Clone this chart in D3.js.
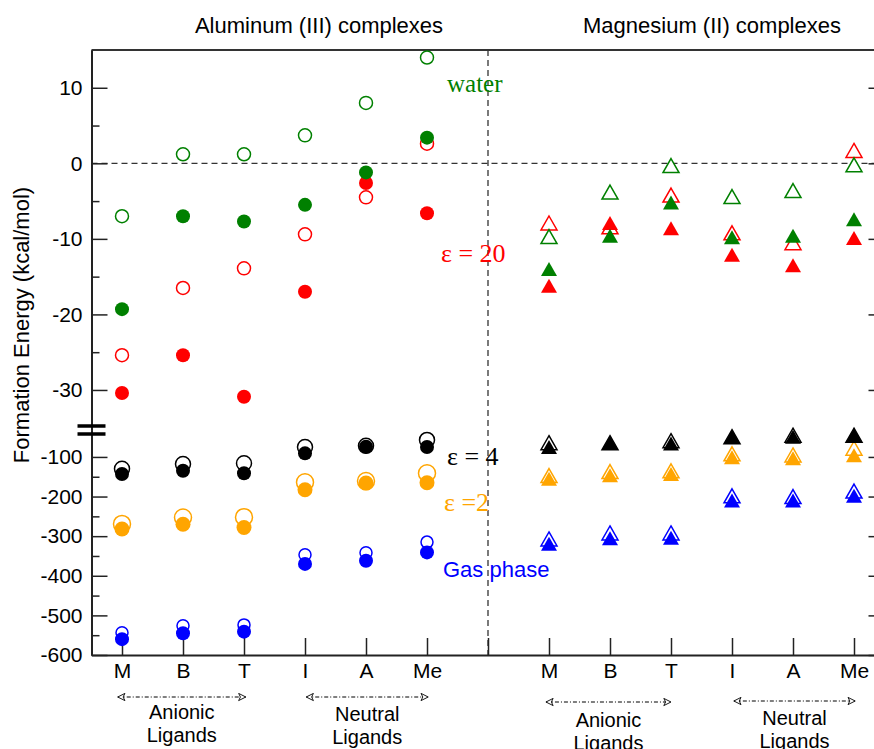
<!DOCTYPE html>
<meta charset="utf-8">
<script src="https://d3js.org/d3.v7.min.js"></script>
<style>
  body { margin: 0; background: #fff; }
  svg text { font-family: "Liberation Sans", Arial, sans-serif; }
</style>
<div id="my_dataviz"></div>
<script>

// ligand labels on the x axis (one block per metal)
var ligands = ["M", "B", "T", "I", "A", "Me"];

// Aluminum (III) complexes (circles): open / filled
var alWaterOpen   = [-7.0, 1.2, 1.2, 3.7, 8.0, 14.0];
var alWaterFilled = [-19.3, -7.0, -7.7, -5.5, -1.2, 3.4];
var alEps20Open   = [-25.4, -16.5, -13.9, -9.4, -4.5, 2.6];
var alEps20Filled = [-30.4, -25.4, -30.9, -17.0, -2.6, -6.6];
var alEps4Open    = [-130, -118, -116, -75, -72, -57];
var alEps4Filled  = [-143, -135, -141, -91, -74, -75];
var alEps2Open    = [-269, -253, -252, -164, -161, -141];
var alEps2Filled  = [-282, -270, -278, -183, -166, -165];
var alGasOpen     = [-544, -526, -524, -347, -342, -315];
var alGasFilled   = [-560, -545, -541, -370, -362, -341];

// Magnesium (II) complexes (triangles): open / filled
var mgWaterOpen   = [-9.7, -3.8, -0.3, -4.4, -3.6, -0.2];
var mgWaterFilled = [-14.0, -9.6, -5.2, -9.8, -9.6, -7.4];
var mgEps20Open   = [-7.9, -8.4, -4.2, -9.2, -10.5, 1.7];
var mgEps20Filled = [-16.2, -7.9, -8.6, -12.1, -13.5, -9.9];
var mgEps4Open    = [-64, -64, -59, -49, -45, -45];
var mgEps4Filled  = [-75, -64, -66, -49, -49, -45];
var mgEps2Open    = [-147, -137, -135, -92, -95, -78];
var mgEps2Filled  = [-155, -146, -143, -101, -103, -96];
var mgGasOpen     = [-307, -292, -292, -198, -200, -186];
var mgGasFilled   = [-319, -305, -304, -210, -210, -198];

// tick values of the broken y axis
var upperTicks = [10, 0, -10, -20, -30];
var upperMinor = [5, -5, -15, -25];
var lowerTicks = [-100, -200, -300, -400, -500, -600];
var lowerMinor = [-150, -250, -350, -450, -550];

var width = 874, height = 749;

var svg = d3.select("#my_dataviz")
  .append("svg")
    .attr("width", width)
    .attr("height", height);

// x: category slots 1..6 (Al), 7 = divider, 8..13 (Mg)
var x = d3.scaleLinear().domain([0.5, 13.5]).range([91.5, 884.5]);

// y: two pieces, upper (small energies) and lower (big energies)
var yBreak = 430;
var yUp  = d3.scaleLinear().domain([-35.3, 15]).range([yBreak, 50]);
var yLow = d3.scaleLinear().domain([-600, -32]).range([655, yBreak]);
function y(v) { return v > -34 ? yUp(v) : yLow(v); }

var green = "#008000", red = "#ff0000", orange = "#ffa500", blue = "#0000ff";

// series in drawing order (later ones on top)
var alSeries = [
  {open: alGasOpen,   filled: alGasFilled,   color: blue,    ro: 6,   rf: 7},
  {open: alEps2Open,  filled: alEps2Filled,  color: orange,  ro: 8.5, rf: 7.5},
  {open: alEps4Open,  filled: alEps4Filled,  color: "#000",  ro: 7.5, rf: 7},
  {open: alEps20Open, filled: alEps20Filled, color: red,     ro: 6.5, rf: 7},
  {open: alWaterOpen, filled: alWaterFilled, color: green,   ro: 6.5, rf: 7}
];
var mgSeries = [
  {open: mgGasOpen,   filled: mgGasFilled,   color: blue},
  {open: mgEps2Open,  filled: mgEps2Filled,  color: orange},
  {open: mgEps4Open,  filled: mgEps4Filled,  color: "#000"},
  {open: mgEps20Open, filled: mgEps20Filled, color: red},
  {open: mgWaterOpen, filled: mgWaterFilled, color: green}
];

// dashed reference lines
svg.append("line")
  .attr("x1", x(0.5)).attr("x2", x(13.5))
  .attr("y1", yUp(0)).attr("y2", yUp(0))
  .style("stroke", "#333").style("stroke-width", 1.3).style("stroke-dasharray", "6,4");
svg.append("line")
  .attr("x1", x(7)).attr("x2", x(7))
  .attr("y1", yUp(15)).attr("y2", yLow(-600))
  .style("stroke", "#333").style("stroke-width", 1.3).style("stroke-dasharray", "6,4");

// top frame line
svg.append("line")
  .attr("x1", x(0.5)).attr("x2", x(13.5))
  .attr("y1", yUp(15)).attr("y2", yUp(15))
  .style("stroke", "#333").style("stroke-width", 2);

// left axis (labels + major), minor ticks
function styleAxis(g) {
  g.selectAll("path").style("stroke", "#222").style("stroke-width", 2);
  g.selectAll("line").style("stroke", "#222").style("stroke-width", 1.5);
  g.selectAll("text").style("font-size", "21px").style("fill", "#000")
    .style("font-family", "'Liberation Sans', Arial, sans-serif");
}
var plain = function(d) { return String(d); };
var axL = x(0.5);
svg.append("g").attr("transform", "translate(" + axL + ",0)")
  .call(d3.axisLeft(yUp).tickValues(upperTicks).tickSize(-16).tickSizeOuter(0).tickPadding(9).tickFormat(plain))
  .call(styleAxis);
svg.append("g").attr("transform", "translate(" + axL + ",0)")
  .call(d3.axisLeft(yUp).tickValues(upperMinor).tickSize(-8).tickSizeOuter(0).tickFormat(""))
  .call(styleAxis);
svg.append("g").attr("transform", "translate(" + axL + ",0)")
  .call(d3.axisLeft(yLow).tickValues(lowerTicks).tickSize(-16).tickSizeOuter(0).tickPadding(9).tickFormat(plain))
  .call(styleAxis);
svg.append("g").attr("transform", "translate(" + axL + ",0)")
  .call(d3.axisLeft(yLow).tickValues(lowerMinor).tickSize(-8).tickSizeOuter(0).tickFormat(""))
  .call(styleAxis);

// right axis (mostly off-page, only tick ends show)
var axR = x(13.5);
svg.append("g").attr("transform", "translate(" + axR + ",0)")
  .call(d3.axisRight(yUp).tickValues(upperTicks).tickSize(-16).tickSizeOuter(0).tickFormat(""))
  .call(styleAxis);
svg.append("g").attr("transform", "translate(" + axR + ",0)")
  .call(d3.axisRight(yLow).tickValues(lowerTicks).tickSize(-16).tickSizeOuter(0).tickFormat(""))
  .call(styleAxis);

// axis break marks
[yBreak - 4, yBreak + 4].forEach(function(yy) {
  svg.append("line")
    .attr("x1", axL - 14).attr("x2", axL + 14)
    .attr("y1", yy).attr("y2", yy)
    .style("stroke", "#000").style("stroke-width", 3.5);
});

// bottom axis with ligand names
var slots = d3.range(1, 14);
svg.append("g").attr("transform", "translate(0," + yLow(-600) + ")")
  .call(d3.axisBottom(x).tickValues(slots).tickSize(-17).tickSizeOuter(0).tickPadding(8)
    .tickFormat(function(d) { return d < 7 ? ligands[d - 1] : (d > 7 ? ligands[d - 8] : ""); }))
  .call(styleAxis);

// Al: circles
alSeries.forEach(function(s) {
  svg.append("g").selectAll("circle")
    .data(s.open).enter().append("circle")
      .attr("cx", function(d, i) { return x(i + 1); })
      .attr("cy", function(d) { return y(d); })
      .attr("r", s.ro)
      .style("fill", "white").style("stroke", s.color).style("stroke-width", 1.5);
});
alSeries.forEach(function(s) {
  svg.append("g").selectAll("circle")
    .data(s.filled).enter().append("circle")
      .attr("cx", function(d, i) { return x(i + 1); })
      .attr("cy", function(d) { return y(d); })
      .attr("r", s.rf)
      .style("fill", s.color);
});

// Mg: triangles, centred on their box
function tri(cx, cy) {
  var w = 8, h = 7;
  return "M" + cx + "," + (cy - h) + "L" + (cx + w) + "," + (cy + h) + "L" + (cx - w) + "," + (cy + h) + "Z";
}
mgSeries.forEach(function(s) {
  svg.append("g").selectAll("path")
    .data(s.open).enter().append("path")
      .attr("d", function(d, i) { return tri(x(i + 8), y(d)); })
      .style("fill", "white").style("stroke", s.color).style("stroke-width", 1.5);
});
mgSeries.forEach(function(s) {
  svg.append("g").selectAll("path")
    .data(s.filled).enter().append("path")
      .attr("d", function(d, i) { return tri(x(i + 8), y(d)); })
      .style("fill", s.color);
});

// titles
svg.append("text").attr("x", 319).attr("y", 33).attr("text-anchor", "middle")
  .style("font-size", "22px").text("Aluminum (III) complexes");
svg.append("text").attr("x", 712).attr("y", 33).attr("text-anchor", "middle")
  .style("font-size", "22px").text("Magnesium (II) complexes");

// y axis label
svg.append("text")
  .attr("transform", "translate(29,325) rotate(-90)")
  .attr("text-anchor", "middle")
  .style("font-size", "22px")
  .text("Formation Energy (kcal/mol)");

// solvent labels
var serif = "'Liberation Serif', 'Times New Roman', serif";
svg.append("text").attr("x", 447).attr("y", 92).style("font-family", serif)
  .style("font-size", "25px").style("fill", green).text("water");
svg.append("text").attr("x", 441).attr("y", 262).style("font-family", serif)
  .style("font-size", "26px").style("fill", red).text("ε = 20");
svg.append("text").attr("x", 447).attr("y", 465).style("font-family", serif)
  .style("font-size", "26px").style("fill", "#000").text("ε = 4");
svg.append("text").attr("x", 444).attr("y", 511).style("font-family", serif)
  .style("font-size", "26px").style("fill", orange).text("ε =2");
svg.append("text").attr("x", 443).attr("y", 577)
  .style("font-size", "22px").style("fill", blue).text("Gas phase");

// ligand group brackets
var defs = svg.append("defs");
["start", "end"].forEach(function(k) {
  defs.append("marker")
    .attr("id", "arr-" + k)
    .attr("viewBox", "0 0 10 10")
    .attr("refX", 9).attr("refY", 5)
    .attr("markerWidth", 9).attr("markerHeight", 9)
    .attr("markerUnits", "userSpaceOnUse")
    .attr("orient", k == "start" ? "auto-start-reverse" : "auto")
    .append("path")
      .attr("d", "M1,1L9,5L1,9L3,5Z")
      .style("fill", "white").style("stroke", "#000").style("stroke-width", 1);
});
var groups = [
  {a: 0.93, b: 3.03, y: 697, name: "Anionic", ty: 719},
  {a: 4.02, b: 6.02, y: 697, name: "Neutral", ty: 721},
  {a: 7.95, b: 10.0, y: 702, name: "Anionic", ty: 727},
  {a: 11.03, b: 13.02, y: 701, name: "Neutral", ty: 725}
];
groups.forEach(function(g) {
  svg.append("line")
    .attr("x1", x(g.a)).attr("x2", x(g.b)).attr("y1", g.y).attr("y2", g.y)
    .style("stroke", "#000").style("stroke-width", 1)
    .style("stroke-dasharray", "4,2,1,2")
    .attr("marker-start", "url(#arr-start)")
    .attr("marker-end", "url(#arr-end)");
  var cx = (x(g.a) + x(g.b)) / 2;
  svg.append("text").attr("x", cx).attr("y", g.ty).attr("text-anchor", "middle")
    .style("font-size", "20px").text(g.name);
  svg.append("text").attr("x", cx).attr("y", g.ty + 23).attr("text-anchor", "middle")
    .style("font-size", "20px").text("Ligands");
});

</script>
